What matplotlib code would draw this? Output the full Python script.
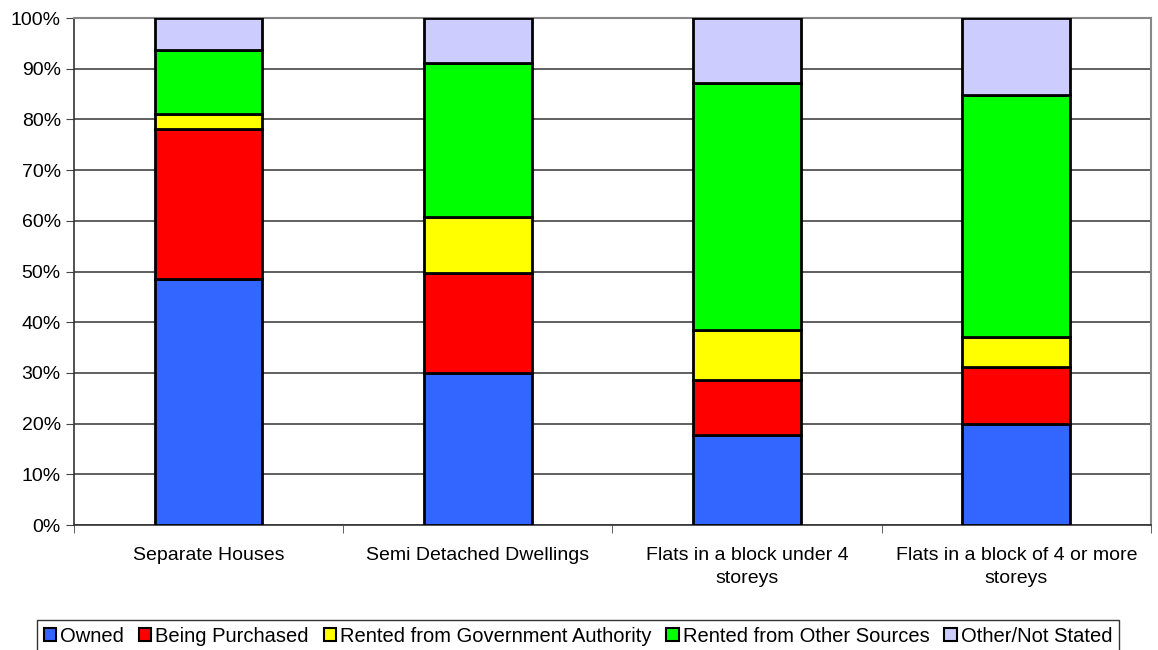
import numpy as np
import matplotlib.pyplot as plt
from matplotlib.ticker import PercentFormatter

plt.rcParams['font.family'] = ['Liberation Sans', 'DejaVu Sans']

categories = ['Separate Houses', 'Semi Detached Dwellings',
              'Flats in a block under 4\nstoreys', 'Flats in a block of 4 or more\nstoreys']
series = ['Owned', 'Being Purchased', 'Rented from Government Authority',
          'Rented from Other Sources', 'Other/Not Stated']
owned = [48.6, 29.9, 17.8, 19.9]
purchasing = [29.5, 19.9, 10.8, 11.3]
rented_gov = [2.9, 10.9, 9.9, 5.8]
rented_other = [12.7, 30.4, 48.6, 47.9]
other = [6.3, 8.9, 12.9, 15.1]
colors = ['#3366ff', '#ff0000', '#ffff00', '#00ff00', '#ccccff']

fig = plt.figure(figsize=(11.58, 6.5), dpi=100)
ax = fig.add_axes([0.0639, 0.1923, 0.9300, 0.7800])

x = np.arange(len(categories))
bottom = np.zeros(len(categories))
for name, vals, c in zip(series, [owned, purchasing, rented_gov, rented_other, other], colors):
    ax.bar(x, vals, 0.4, bottom=bottom, color=c, edgecolor='black', linewidth=2.0,
           label=name, zorder=3)
    bottom += np.array(vals)

ax.set_xlim(-0.5, len(categories) - 0.5)
ax.set_ylim(0, 100)
ax.set_yticks(np.arange(0, 101, 10))
ax.yaxis.set_major_formatter(PercentFormatter(decimals=0))
ax.yaxis.grid(True, color='#444444', linewidth=1.2, zorder=0)
ax.set_xticks(x)
ax.set_xticklabels(categories, fontsize=14, linespacing=1.45)
ax.set_xticks(np.arange(-0.5, len(categories)), minor=True)
ax.tick_params(axis='x', which='major', length=0, pad=16)
ax.tick_params(axis='x', which='minor', length=6, direction='out', color='#444444')
ax.tick_params(axis='y', labelsize=14, length=6, direction='out', color='#444444')

for side in ['top', 'right']:
    ax.spines[side].set_color('#888888')
    ax.spines[side].set_linewidth(1.5)
ax.spines['left'].set_color('#333333')
ax.spines['bottom'].set_color('#333333')
ax.spines['left'].set_linewidth(1.2)
ax.spines['bottom'].set_linewidth(1.2)

leg = ax.legend(loc='upper center', bbox_to_anchor=(0.468, -0.187), ncol=5,
                fontsize=14.5, frameon=True, fancybox=False, edgecolor='black',
                handlelength=0.6, handleheight=0.6, handletextpad=0.2,
                columnspacing=0.75, borderpad=0.35, borderaxespad=0)
leg.get_frame().set_linewidth(1.0)
for h in leg.legend_handles:
    h.set_linewidth(1.5)

fig.savefig('out.png', dpi=100)
